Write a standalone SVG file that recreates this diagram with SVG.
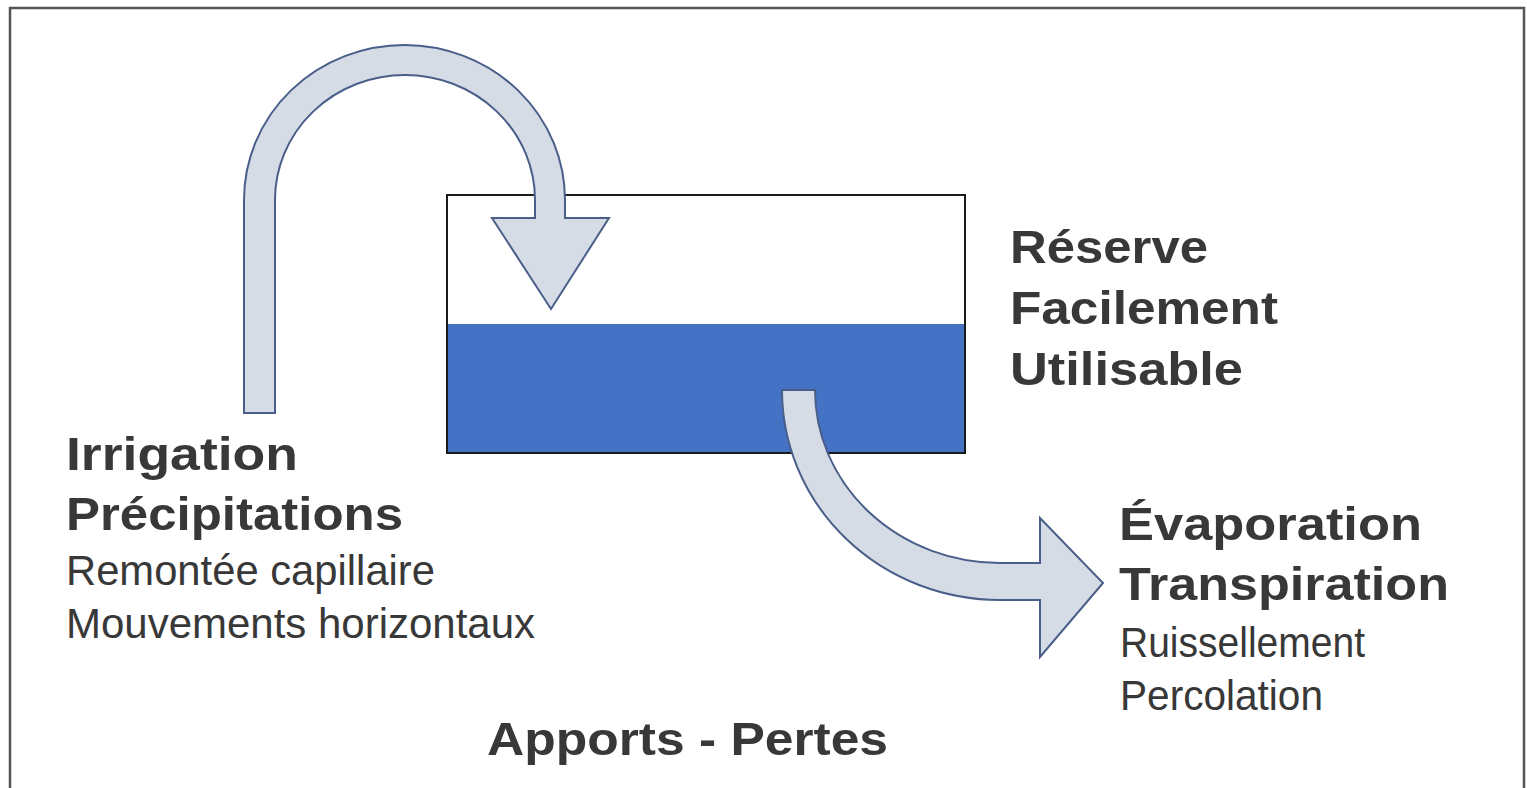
<svg xmlns="http://www.w3.org/2000/svg" width="1527" height="788" viewBox="0 0 1527 788">
<style>
.arrow{fill:#d6dce5;stroke:#4a5e8a;stroke-width:2;stroke-linejoin:miter}
.b{font-family:"Liberation Sans",Arial,sans-serif;font-weight:bold;font-size:47px;fill:#383838}
.r{font-family:"Liberation Sans",Arial,sans-serif;font-size:43px;fill:#383838}
</style>
<rect x="0" y="0" width="1527" height="788" fill="#ffffff"/>
<rect x="10" y="8" width="1514" height="800" fill="none" stroke="#555555" stroke-width="2.5"/>
<g id="reserve">
<rect x="447" y="195" width="518" height="258" fill="#ffffff"/>
<rect x="447" y="324" width="518" height="129" fill="#4472c4"/>
<rect x="447" y="195" width="518" height="258" fill="none" stroke="#1a1a1a" stroke-width="2"/>
</g>
<g id="connectors">
<path class="arrow" d="M244,413 L244,200 A160.5,155 0 0 1 565,200 L565,218 L609,218 L551,309 L492,218 L535,218 L535,200 A130,125 0 0 0 275,200 L275,413 Z"/>
<path class="arrow" d="M782,390 A218,210 0 0 0 1000,600 L1040,600 L1040,657 L1103,583 L1040,518 L1040,563 L1000,563 A185,173 0 0 1 815,390 Z"/>
</g>
<g id="label-reserve">
<text class="b" x="1010" y="263" textLength="198" lengthAdjust="spacingAndGlyphs">Réserve</text>
<text class="b" x="1010" y="324" textLength="268" lengthAdjust="spacingAndGlyphs">Facilement</text>
<text class="b" x="1010" y="385" textLength="233" lengthAdjust="spacingAndGlyphs">Utilisable</text>
</g>
<g id="label-apports">
<text class="b" x="66" y="470" textLength="232" lengthAdjust="spacingAndGlyphs">Irrigation</text>
<text class="b" x="66" y="530" textLength="337" lengthAdjust="spacingAndGlyphs">Précipitations</text>
<text class="r" x="66" y="585" textLength="369" lengthAdjust="spacingAndGlyphs">Remontée capillaire</text>
<text class="r" x="66" y="638" textLength="469" lengthAdjust="spacingAndGlyphs">Mouvements horizontaux</text>
</g>
<g id="label-pertes">
<text class="b" x="1119" y="540" textLength="303" lengthAdjust="spacingAndGlyphs">Évaporation</text>
<text class="b" x="1119" y="600" textLength="330" lengthAdjust="spacingAndGlyphs">Transpiration</text>
<text class="r" x="1120" y="657" textLength="245" lengthAdjust="spacingAndGlyphs">Ruissellement</text>
<text class="r" x="1120" y="710" textLength="203" lengthAdjust="spacingAndGlyphs">Percolation</text>
</g>
<g id="label-bilan">
<text class="b" x="487" y="755" textLength="401" lengthAdjust="spacingAndGlyphs">Apports - Pertes</text>
</g>
</svg>
